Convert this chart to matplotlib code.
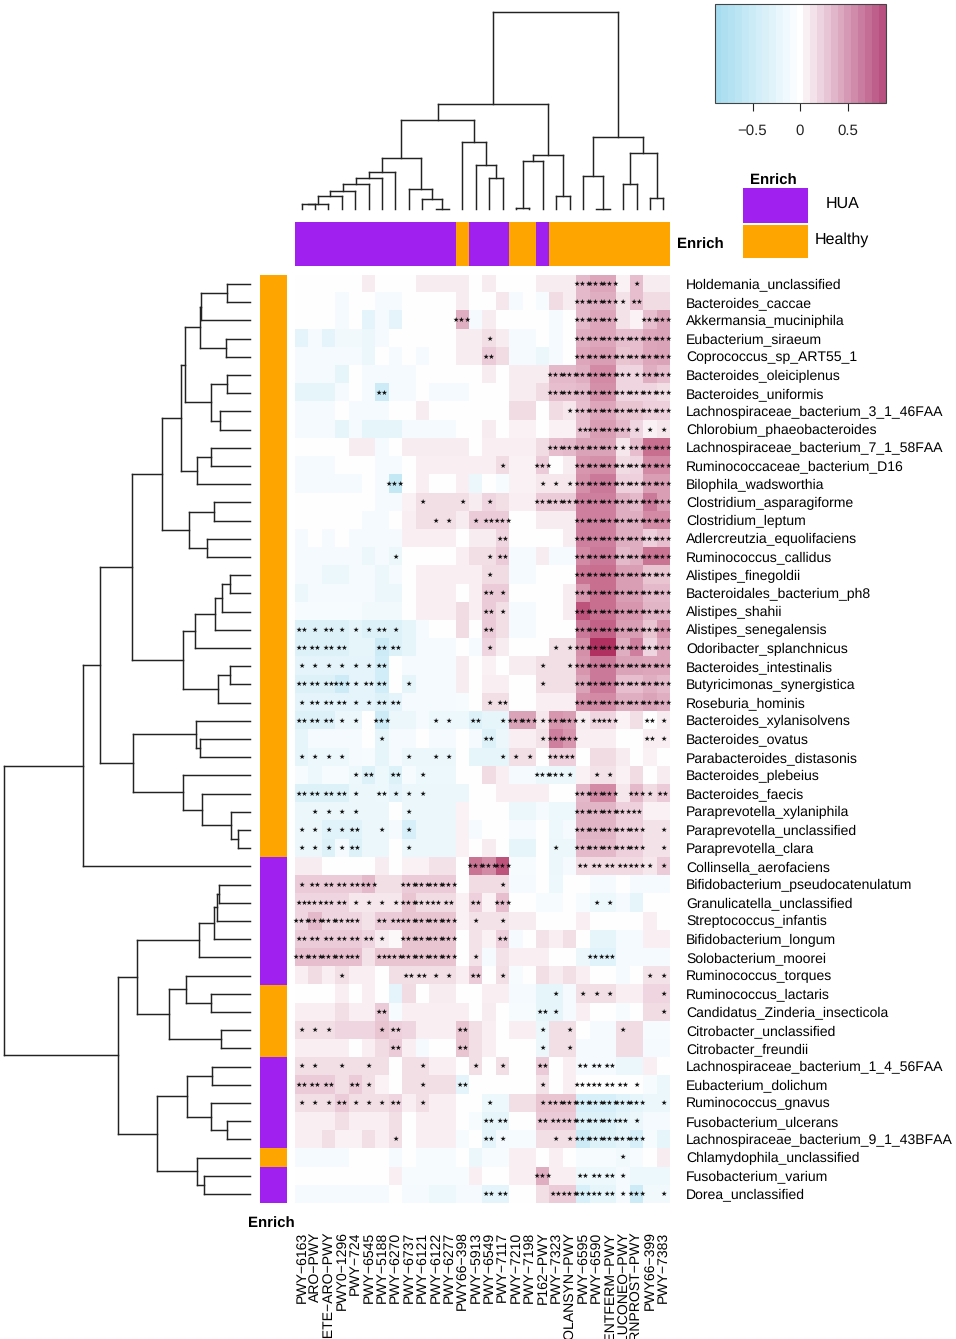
import numpy as np
import matplotlib
matplotlib.use("Agg")
import matplotlib.pyplot as plt
from matplotlib.cm import ScalarMappable
from matplotlib.colors import LinearSegmentedColormap, ListedColormap, Normalize

plt.rcParams["font.family"] = ["Liberation Sans", "DejaVu Sans"]
plt.rcParams["text.hinting"] = "none"
plt.rcParams["text.hinting_factor"] = 1

W, H = 956, 1339

species = [
    "Holdemania_unclassified", "Bacteroides_caccae", "Akkermansia_muciniphila",
    "Eubacterium_siraeum", "Coprococcus_sp_ART55_1", "Bacteroides_oleiciplenus",
    "Bacteroides_uniformis", "Lachnospiraceae_bacterium_3_1_46FAA",
    "Chlorobium_phaeobacteroides", "Lachnospiraceae_bacterium_7_1_58FAA",
    "Ruminococcaceae_bacterium_D16", "Bilophila_wadsworthia",
    "Clostridium_asparagiforme", "Clostridium_leptum",
    "Adlercreutzia_equolifaciens", "Ruminococcus_callidus", "Alistipes_finegoldii",
    "Bacteroidales_bacterium_ph8", "Alistipes_shahii", "Alistipes_senegalensis",
    "Odoribacter_splanchnicus", "Bacteroides_intestinalis",
    "Butyricimonas_synergistica", "Roseburia_hominis", "Bacteroides_xylanisolvens",
    "Bacteroides_ovatus", "Parabacteroides_distasonis", "Bacteroides_plebeius",
    "Bacteroides_faecis", "Paraprevotella_xylaniphila",
    "Paraprevotella_unclassified", "Paraprevotella_clara", "Collinsella_aerofaciens",
    "Bifidobacterium_pseudocatenulatum", "Granulicatella_unclassified",
    "Streptococcus_infantis", "Bifidobacterium_longum", "Solobacterium_moorei",
    "Ruminococcus_torques", "Ruminococcus_lactaris",
    "Candidatus_Zinderia_insecticola", "Citrobacter_unclassified",
    "Citrobacter_freundii", "Lachnospiraceae_bacterium_1_4_56FAA",
    "Eubacterium_dolichum", "Ruminococcus_gnavus", "Fusobacterium_ulcerans",
    "Lachnospiraceae_bacterium_9_1_43BFAA", "Chlamydophila_unclassified",
    "Fusobacterium_varium", "Dorea_unclassified",
]

pathways = [
    "PWY−6163", "ARO−PWY", "COMPLETE−ARO−PWY", "PWY0−1296", "PWY−724", "PWY−6545",
    "PWY−5188", "PWY−6270", "PWY−6737", "PWY−6121", "PWY−6122", "PWY−6277",
    "PWY66−398", "PWY−5913", "PWY−6549", "PWY−7117", "PWY−7210", "PWY−7198",
    "P162−PWY", "PWY−7323", "COLANSYN−PWY", "PWY−6595", "PWY−6590", "PENTFERM−PWY",
    "GLUCONEO−PWY", "ARGORNPROST−PWY", "PWY66−399", "PWY−7383",
]

# H = HUA, O = Healthy
row_enrich = "O" * 32 + "H" * 7 + "O" * 4 + "H" * 5 + "O" + "H" * 2
col_enrich = "H" * 12 + "O" + "H" * 3 + "OO" + "H" + "O" * 9

# correlation x 100
corr = [
    [0,0,0,0,0,8,0,0,0,8,8,8,8,0,8,0,0,0,8,8,8,30,38,38,6,28,8,8],
    [0,0,0,-11,0,0,-11,-11,0,0,0,0,8,0,0,10,-11,0,-8,15,8,30,35,35,12,28,15,15],
    [0,0,0,-11,0,-27,-11,-27,0,0,0,0,35,-11,8,0,0,0,0,-11,0,30,38,38,12,5,28,40],
    [-27,-11,-27,-14,-14,-20,-11,0,0,0,0,0,8,8,14,8,-11,-11,0,-11,0,35,38,38,28,28,38,40],
    [-11,-11,-11,-11,-11,-20,0,-11,0,-11,0,0,8,8,22,15,-11,-11,-20,-11,0,38,42,42,25,28,38,40],
    [-11,-11,-11,-24,0,-11,-11,-11,-11,0,0,0,0,0,8,0,8,8,8,30,30,35,50,50,18,18,35,28],
    [-24,-24,-24,-11,0,-11,-50,-11,-11,0,-11,-11,-11,0,0,0,8,8,15,28,28,30,48,48,18,18,18,14],
    [-11,-11,-11,0,-11,-11,-11,0,0,8,0,0,0,0,0,0,15,15,0,15,10,28,38,38,25,25,20,20],
    [-11,-11,-11,-24,-11,-24,-24,-24,-11,-11,-11,-11,0,0,8,0,6,6,0,6,6,28,42,42,30,18,6,10],
    [0,0,0,0,8,8,-11,0,8,8,8,8,8,0,7,7,7,7,15,28,30,40,40,40,10,28,62,62],
    [-11,-11,-11,0,0,0,-11,-11,0,7,7,7,7,7,7,15,6,6,22,0,8,45,48,48,15,18,50,50],
    [-11,-11,-11,-11,-11,0,-11,-58,0,7,0,0,7,-20,0,-8,6,6,10,10,10,48,58,58,20,20,42,42],
    [0,0,0,0,0,0,-11,-11,6,14,14,14,14,8,18,14,7,7,22,22,22,55,55,55,35,30,58,42],
    [0,0,0,0,0,-11,-11,0,7,14,14,14,8,22,22,22,0,0,8,8,8,55,55,55,35,35,50,50],
    [-11,0,-11,0,-11,-11,-11,-11,7,7,7,7,0,8,8,18,0,0,0,0,8,55,55,55,35,35,20,28],
    [-11,-11,-11,-11,-11,-20,-11,-20,0,0,0,0,7,14,14,22,-11,-11,8,-11,-11,50,58,58,30,35,60,60],
    [-11,-11,-20,-20,-11,-11,-20,-11,0,7,7,7,7,7,15,15,-11,-11,0,0,0,60,62,62,42,42,25,25],
    [-20,-11,-11,-11,-11,-11,-20,-20,0,7,7,7,0,7,22,22,0,0,0,0,8,45,62,62,42,42,30,30],
    [-8,-8,-8,-8,-8,-14,-14,-14,0,7,7,7,15,7,22,14,-11,-11,0,0,8,75,62,62,45,45,32,32],
    [-34,-34,-34,-34,-24,-34,-34,-34,-24,-11,0,0,15,0,22,14,-11,-11,0,0,0,58,68,68,42,42,25,45],
    [-34,-34,-34,-34,-24,-24,-50,-34,-24,-11,-11,-11,0,-11,18,8,0,0,0,14,14,48,90,90,35,55,18,38],
    [-27,-27,-27,-27,-27,-27,-46,0,-11,-11,-11,-11,8,0,6,0,8,8,14,14,14,45,58,58,40,40,38,38],
    [-34,-34,-34,-50,-27,-27,-46,0,-24,-11,-11,-11,8,0,7,7,0,0,14,14,14,40,58,58,28,28,35,30],
    [-27,-27,-27,-27,-27,-27,-34,-27,-11,-11,-11,-11,-8,0,14,14,0,0,7,7,7,48,50,50,35,35,40,35],
    [-34,-34,-34,-20,-20,0,-50,-20,-20,-11,-17,-17,-17,-34,-24,-24,40,40,10,45,42,8,18,18,5,14,0,8],
    [-24,-11,-11,-11,-11,0,-24,-11,-11,0,-11,-11,0,-11,-34,-20,7,7,12,55,45,7,7,7,0,0,7,7],
    [-24,-17,-17,-17,-11,-8,-24,-11,-20,-20,-20,-20,0,-24,-24,-24,14,14,0,20,20,0,15,15,8,0,6,0],
    [-8,-17,-8,-8,-17,-34,-17,-34,-8,-17,-17,-17,0,0,15,7,-11,-11,-20,-20,-20,6,12,12,6,15,0,8],
    [-34,-34,-34,-34,-20,-20,-17,-27,-20,-20,-20,-20,-20,0,0,7,7,7,7,0,0,30,50,50,10,30,15,22],
    [-20,-20,-20,-20,-20,-20,-20,0,-20,-20,-20,-20,5,0,0,0,-20,-20,-11,-17,-17,32,32,32,20,20,6,6],
    [-20,-20,-30,-30,-30,-20,-20,-11,-40,-20,-20,-20,6,-11,0,0,-11,-11,0,-17,-11,32,32,32,20,20,12,12],
    [-20,-20,-34,-11,-34,-20,-20,0,-20,-20,-20,-20,6,0,8,0,-24,-24,0,-20,-20,30,30,30,20,20,12,12],
    [8,8,0,0,0,0,8,0,6,6,12,12,0,60,50,75,-8,-8,0,-20,-11,16,16,16,16,16,10,22],
    [22,22,22,22,22,30,14,14,22,22,22,22,0,15,15,15,-11,-11,0,-17,0,0,-11,-11,0,-11,-11,-11],
    [18,18,18,18,10,10,10,10,25,15,15,15,6,20,5,28,0,0,-8,-8,0,-8,-17,-17,-11,-24,0,0],
    [18,30,18,18,18,12,22,22,25,25,25,25,6,12,12,12,8,8,0,0,0,7,0,0,0,0,7,0],
    [22,22,22,22,22,18,8,3,25,25,25,25,0,12,6,20,-11,0,12,7,14,0,-24,-24,-11,-11,7,7],
    [28,28,28,28,28,12,25,25,25,25,25,25,0,12,-11,12,7,7,7,0,0,-20,-30,-30,-11,-11,-11,-11],
    [7,15,7,14,7,7,0,14,14,14,14,14,7,22,0,14,-8,0,14,8,14,7,0,0,-11,0,12,12],
    [0,0,0,7,0,7,0,-27,15,0,8,8,0,0,7,7,-11,-11,-24,-24,-11,14,14,14,7,7,18,18],
    [7,7,7,14,7,7,22,-8,7,7,7,7,7,0,8,0,-8,-8,-24,-24,-11,7,0,0,-8,0,15,15],
    [14,14,14,18,18,18,25,20,18,7,7,7,25,14,7,0,7,7,-20,14,14,0,-11,-11,15,15,-8,-8],
    [7,7,7,7,0,7,15,22,7,-11,0,0,25,14,7,0,0,0,-20,14,14,-11,-11,-11,15,15,-11,-11],
    [14,14,14,14,14,14,14,0,14,14,7,7,0,14,0,14,0,0,22,0,7,-11,-11,-11,-20,-20,7,0],
    [22,22,22,14,22,14,5,0,14,14,14,14,-27,0,0,0,0,0,12,0,7,0,0,0,0,0,-8,-20],
    [14,14,14,22,14,14,14,18,7,14,7,7,0,0,-17,-17,14,14,25,25,25,-40,-40,-40,-30,-24,-20,-20],
    [7,7,7,14,7,7,7,14,0,7,7,7,0,-8,-24,-24,0,0,22,22,22,-34,-34,-34,-24,-20,-11,-11],
    [7,7,14,6,6,14,7,14,0,7,7,7,-8,0,-27,-11,-8,-8,14,14,14,-50,-34,-34,-27,-40,-8,-24],
    [-11,-11,-11,-11,0,0,0,-11,0,-8,-8,-8,0,-20,-8,-8,7,7,0,7,0,-8,-8,-8,-14,-8,0,8],
    [0,0,0,0,0,0,0,7,-8,-8,-8,-8,-8,7,0,0,7,7,35,7,7,-17,-17,-17,-11,-17,-17,-17],
    [-11,-11,-11,-11,-11,-11,-11,0,-11,-11,-17,-17,-11,-11,-27,-27,0,0,14,22,22,-40,-24,-24,-11,-50,-14,-14],
]

# significance stars per row: {column: number of stars}
stars = [
    {21:3,22:3,23:3,25:1},
    {21:3,22:3,23:3,24:1,25:2},
    {12:3,21:3,22:3,23:3,26:3,27:3},
    {14:1,21:3,22:3,23:3,24:3,25:3,26:3,27:3},
    {14:2,21:3,22:3,23:3,24:3,25:3,26:3,27:3},
    {19:3,20:3,21:3,22:3,23:3,24:3,25:1,26:3,27:3},
    {6:2,19:3,20:3,21:3,22:3,23:3,24:3,25:3,26:3,27:3},
    {20:1,21:3,22:3,23:3,24:3,25:3,26:3,27:3},
    {21:2,22:3,23:3,24:3,25:1,26:1,27:1},
    {19:3,20:3,21:3,22:3,23:3,24:1,25:3,26:3,27:3},
    {15:1,18:3,21:3,22:3,23:3,24:3,25:3,26:3,27:3},
    {7:3,18:1,19:1,20:1,21:3,22:3,23:3,24:3,25:3,26:3,27:3},
    {9:1,12:1,14:1,18:3,19:3,20:3,21:3,22:3,23:3,24:3,25:3,26:3,27:3},
    {10:1,11:1,13:1,14:2,15:3,21:3,22:3,23:3,24:3,25:3,26:3,27:3},
    {15:2,21:3,22:3,23:3,24:3,25:3,26:3,27:3},
    {7:1,14:1,15:2,21:3,22:3,23:3,24:3,25:3,26:3,27:3},
    {14:1,21:3,22:3,23:3,24:3,25:3,26:3,27:3},
    {14:2,15:1,21:3,22:3,23:3,24:3,25:3,26:3,27:3},
    {14:2,15:1,21:3,22:3,23:3,24:3,25:3,26:3,27:3},
    {0:2,1:1,2:2,3:1,4:1,5:1,6:2,7:1,14:2,21:3,22:3,23:3,24:3,25:3,26:3,27:3},
    {0:2,1:2,2:2,3:2,6:2,7:2,14:1,19:1,20:1,21:3,22:3,23:3,24:3,25:3,26:3,27:3},
    {0:1,1:1,2:1,3:1,4:1,5:1,6:2,18:1,20:1,21:3,22:3,23:3,24:3,25:3,26:3,27:3},
    {0:2,1:2,2:2,3:3,4:1,5:2,6:2,8:1,18:1,21:3,22:3,23:3,24:3,25:3,26:3,27:3},
    {0:1,1:2,2:2,3:2,4:1,5:1,6:2,7:2,14:1,15:2,21:3,22:3,23:3,24:3,25:3,26:3,27:3},
    {0:2,1:2,2:2,3:1,4:1,6:3,10:1,11:1,13:2,15:1,16:3,17:3,18:1,19:3,20:3,21:1,22:2,23:3,26:2,27:1},
    {6:1,14:2,18:1,19:3,20:3,26:2,27:1},
    {0:1,1:1,2:1,3:1,8:1,10:1,11:1,15:1,16:1,17:1,19:3,20:2},
    {4:1,5:2,7:2,9:1,18:3,19:3,20:1,22:1,23:1},
    {0:2,1:2,2:2,3:2,4:1,6:2,7:1,8:1,9:1,21:3,22:3,23:3,25:3,26:1,27:2},
    {1:1,2:1,3:1,4:1,8:1,21:3,22:3,23:3,24:3,25:2},
    {0:1,1:1,2:1,3:1,4:2,6:1,8:1,21:3,22:3,23:3,24:3,25:3,27:1},
    {0:1,1:1,2:1,3:1,4:2,8:1,19:1,21:3,22:3,23:3,24:3,25:3,27:1},
    {13:3,14:3,15:3,21:2,22:2,23:2,24:2,25:3,26:1,27:1},
    {0:1,1:2,2:2,3:2,4:2,5:3,8:3,9:3,10:3,11:3,15:1},
    {0:2,1:3,2:2,3:2,4:1,5:1,6:1,7:1,8:3,9:3,10:2,11:2,13:2,15:3,22:1,23:1},
    {0:3,1:3,2:3,3:3,4:2,6:2,7:2,8:3,9:3,10:3,11:3,13:1,15:1},
    {0:2,1:2,2:2,3:2,4:2,5:2,6:1,8:3,9:3,10:3,11:3,15:2},
    {0:3,1:3,2:3,3:3,4:2,6:2,7:3,8:3,9:3,10:3,11:3,13:1,22:3,23:2},
    {3:1,8:2,9:2,10:1,11:1,13:2,15:1,26:1,27:1},
    {19:1,21:1,22:1,23:1,27:1},
    {6:2,18:2,19:1,27:1},
    {0:1,1:1,2:1,6:1,7:2,12:2,18:1,20:1,24:1},
    {7:2,12:2,18:1,20:1},
    {0:1,1:1,3:1,5:1,9:1,13:1,15:1,18:2,21:2,22:2,23:2},
    {0:2,1:2,2:2,4:2,5:1,9:1,12:2,18:1,21:3,22:2,23:2,24:2,25:1},
    {0:1,1:1,2:1,3:2,4:1,5:1,6:1,7:2,9:1,14:1,18:1,19:3,20:3,21:3,22:3,23:3,24:3,25:3,27:1},
    {14:2,15:2,18:2,19:2,20:3,21:3,22:3,23:3,24:2,25:1},
    {7:1,14:2,15:1,19:1,20:1,21:3,22:3,23:3,24:3,25:3},
    {24:1},
    {18:3,21:2,22:2,23:2,24:1},
    {14:2,15:2,19:2,20:3,21:3,22:2,23:2,24:1,25:3,27:1},
]

# dendrograms as (height, left, right), leaves are row / column numbers
row_tree = (738,
    (500,
        (450,
            (354,
                (265,
                    (208,
                        (194,
                            (150, (147, (68, 0, 1), 2), (72, 3, 4)),
                            (117, (69, 5, 6), (90, 7, 8))),
                        (160, (116, 9, 10), 11)),
                    (182, (109, 12, 13), (130, 14, 15))),
                (201,
                    (165, (104, (85, (59, 16, 17), 18), 19), 20),
                    (96, (60, 21, 22), 23))),
            (352,
                (162, 24, (150, 25, 26)),
                (201, 27, (144, 28, (56, 29, (37, 30, 31)))))),
        32),
    (395,
        (340,
            (152, (109, (100, (92, 33, 34), 35), 36), 37),
            (243, (191, 38, (118, 39, 40)), (87, 41, 42))),
        (278,
            (189, (115, 43, 44), (117, 45, (69, 46, 47))),
            (158, 48, (138, 49, 50)))))

col_tree = (593,
    (316,
        (269,
            (153,
                (113, (95, (77, (56, (39, (17, (15, 0, 1), 2), 3), 4), 5), 6), 7),
                (62, 8, (32, 9, (1, 10, 11)))),
            (203, 12, (133, 13, (93, 14, 15)))),
        (163, (146, (5, 16, 17), 18), (41, 19, 20))),
    (218,
        (101, 21, (1, 22, 23)),
        (168, (76, 24, 25), (34, 26, 27))))

cbar_ticks = [-0.5, 0, 0.5]
cbar_ticklabels = ["−0.5", "0", "0.5"]

PURPLE = "#a020f0"
ORANGE = "#ffa500"


def px_axes(fig, x0, y0, x1, y1):
    # axes from pixel box, y measured from the top of the image
    ax = fig.add_axes([x0 / W, 1 - y1 / H, (x1 - x0) / W, (y1 - y0) / H])
    ax.set_axis_off()
    return ax


def px_text(fig, x, y, s, **kw):
    fig.text(x / W, 1 - y / H, s, **kw)


def tree_segments(node):
    # returns (leaf position, height, list of (pos0, h0, pos1, h1))
    if isinstance(node, int):
        return node + 0.5, 0, []
    h, left, right = node
    p0, h0, s0 = tree_segments(left)
    p1, h1, s1 = tree_segments(right)
    segs = s0 + s1 + [(p0, h0, p0, h), (p0, h, p1, h), (p1, h, p1, h1)]
    return (p0 + p1) / 2, h, segs


def draw_row_dendro(fig):
    ax = px_axes(fig, 4, 275, 250, 1203)
    for p0, h0, p1, h1 in tree_segments(row_tree)[2]:
        ax.plot([h0, h1], [p0, p1], color="#222222", lw=1.05, solid_capstyle="projecting",
                clip_on=False)
    ax.set_xlim(738, 0)
    ax.set_ylim(len(species), 0)


def draw_col_dendro(fig):
    ax = px_axes(fig, 295, 11.7, 670, 209.3)
    for p0, h0, p1, h1 in tree_segments(col_tree)[2]:
        ax.plot([p0, p1], [h0, h1], color="#222222", lw=1.05, solid_capstyle="projecting",
                clip_on=False)
    ax.set_xlim(0, len(pathways))
    ax.set_ylim(0, 593)


def draw_enrich_bars(fig):
    cmap = ListedColormap([PURPLE, ORANGE])
    ax = px_axes(fig, 259.5, 275, 286.5, 1203)
    codes = [[0 if c == "H" else 1] for c in row_enrich]
    ax.imshow(codes, aspect="auto", cmap=cmap, vmin=0, vmax=1, interpolation="nearest")
    ax = px_axes(fig, 295, 222, 670, 266)
    codes = [[0 if c == "H" else 1 for c in col_enrich]]
    ax.imshow(codes, aspect="auto", cmap=cmap, vmin=0, vmax=1, interpolation="nearest")


def draw_heatmap(fig):
    cmap = LinearSegmentedColormap.from_list("bwm", ["#a6dcf0", "#ffffff", "#b03060"], N=256)
    ax = px_axes(fig, 295, 275, 670, 1203)
    ax.imshow(np.array(corr) / 100, aspect="auto", cmap=cmap, vmin=-0.9, vmax=0.9,
              interpolation="nearest", extent=(0, 28, 51, 0))
    for r, row in enumerate(stars):
        for c, n in row.items():
            ax.text(c + 0.5, r + 0.5, "★" * n, ha="center", va="center", fontsize=5.1,
                    family="DejaVu Sans", color="#111111")
    for r, name in enumerate(species):
        px_text(fig, 686, 276 + 18.196 * (r + 0.5), name, ha="left", va="center", fontsize=10.05)
    for c, name in enumerate(pathways):
        px_text(fig, 295 + 13.393 * (c + 0.5), 1231.5, name, rotation=90, ha="center", va="top",
                fontsize=10.05)


def draw_colorbar(fig):
    cmap = LinearSegmentedColormap.from_list("bar", ["#a6dcf0", "#ffffff", "#b85080"], N=25)
    sm = ScalarMappable(norm=Normalize(-0.9, 0.9), cmap=cmap)
    cax = fig.add_axes([714.5 / W, 1 - 102.5 / H, 171 / W, 98.5 / H])
    cb = fig.colorbar(sm, cax=cax, orientation="horizontal", ticks=cbar_ticks)
    cb.ax.set_xticklabels(cbar_ticklabels, fontsize=11)
    cb.ax.tick_params(length=5.8, width=0.8, pad=9.5, color="#222222", labelcolor="#222222")
    cb.outline.set_linewidth(0.8)
    cb.outline.set_edgecolor("#444444")


def draw_legend(fig):
    for (y0, y1), color in zip([(187.5, 223), (225, 257.5)], [PURPLE, ORANGE]):
        ax = px_axes(fig, 743, y0, 808, y1)
        ax.set_axis_on()
        ax.set_facecolor(color)
        ax.set_xticks([])
        ax.set_yticks([])
        for s in ax.spines.values():
            s.set_visible(False)
    px_text(fig, 773, 180.5, "Enrich", ha="center", va="center", fontsize=11, fontweight="bold")
    px_text(fig, 842.5, 203.5, "HUA", ha="center", va="center", fontsize=11.3)
    px_text(fig, 842, 239.5, "Healthy", ha="center", va="center", fontsize=11.3)
    px_text(fig, 700.5, 244.5, "Enrich", ha="center", va="center", fontsize=11, fontweight="bold")
    px_text(fig, 271.5, 1223.5, "Enrich", ha="center", va="center", fontsize=11, fontweight="bold")


def main():
    fig = plt.figure(figsize=(W / 100, H / 100), dpi=100)
    draw_row_dendro(fig)
    draw_col_dendro(fig)
    draw_enrich_bars(fig)
    draw_heatmap(fig)
    draw_colorbar(fig)
    draw_legend(fig)
    fig.savefig("out.png", dpi=100)


if __name__ == "__main__":
    main()
